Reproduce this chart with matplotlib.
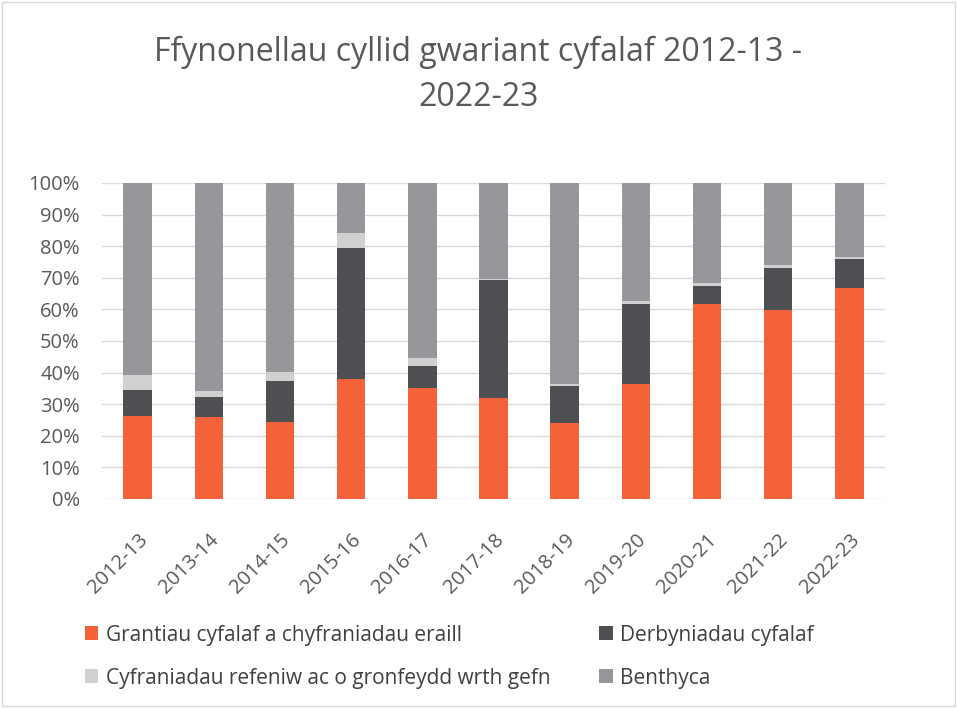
import matplotlib.pyplot as plt
from matplotlib.patches import Rectangle

years = ["2012-13", "2013-14", "2014-15", "2015-16", "2016-17", "2017-18",
         "2018-19", "2019-20", "2020-21", "2021-22", "2022-23"]

# shares in percent
grantiau = [26.2, 25.8, 24.5, 38.1, 35.1, 32.0, 24.0, 36.3, 61.8, 59.7, 66.7]
derbyniadau = [8.2, 6.5, 13.0, 41.3, 7.1, 37.2, 11.9, 25.5, 5.5, 13.4, 9.3]
cyfraniadau = [4.8, 1.8, 2.6, 4.8, 2.4, 0.5, 0.6, 1.0, 1.0, 0.8, 0.6]
benthyca = [100 - a - b - c for a, b, c in zip(grantiau, derbyniadau, cyfraniadau)]

series = [
    ("Grantiau cyfalaf a chyfraniadau eraill", grantiau, "#F4623A"),
    ("Derbyniadau cyfalaf", derbyniadau, "#4D4F53"),
    ("Cyfraniadau refeniw ac o gronfeydd wrth gefn", cyfraniadau, "#D0D0D0"),
    ("Benthyca", benthyca, "#97969B"),
]

plt.rcParams['font.family'] = ['Open Sans', 'DejaVu Sans']

fig = plt.figure(figsize=(9.57, 7.08), dpi=100)
ax = fig.add_axes([102 / 957, 1 - 499 / 708, 783 / 957, 316 / 708])

x = range(len(years))
bottom = [0] * len(years)
handles = []
for label, vals, color in series:
    bars = ax.bar(x, vals, bottom=bottom, width=0.4, color=color, label=label, zorder=3)
    handles.append(bars)
    bottom = [b + v for b, v in zip(bottom, vals)]

ax.set_xlim(-0.5, len(years) - 0.5)
ax.set_ylim(0, 100)
ax.set_yticks(range(0, 101, 10))
ax.set_yticklabels([f"{t}%" for t in range(0, 101, 10)], fontsize=14.5, color="#595959")
ax.set_xticks(list(x))
ax.set_xticklabels(years, rotation=45, ha="right", rotation_mode="anchor",
                   fontsize=14.5, color="#595959")
ax.tick_params(axis="y", length=0, pad=16)
ax.tick_params(axis="x", length=0, pad=22)
ax.grid(axis="y", color="#D9D9D9", linewidth=1, zorder=0)
for s in ax.spines.values():
    s.set_visible(False)

fig.text(0.5, 1 - 52 / 708, "Ffynonellau cyllid gwariant cyfalaf 2012-13 -",
         ha="center", va="center", fontsize=23, color="#595959")
fig.text(0.5, 1 - 98 / 708, "2022-23",
         ha="center", va="center", fontsize=23, color="#595959")

# legend fills column by column, so order the handles to match the reference rows
order = [0, 2, 1, 3]
leg = fig.legend(handles=[handles[i] for i in order], labels=[series[i][0] for i in order],
                 loc="upper left", bbox_to_anchor=(66 / 957, 1 - 606 / 708),
                 ncol=2, frameon=False, fontsize=15, handlelength=0.65, handleheight=0.65,
                 handletextpad=0.35, columnspacing=2.35, labelspacing=1.05)
for t in leg.get_texts():
    t.set_color("#404040")

fig.patches.append(Rectangle((2 / 957, 2 / 708), 953 / 957, 704 / 708, transform=fig.transFigure,
                             fill=False, edgecolor="#D9D9D9", linewidth=1))

fig.savefig("out.png", dpi=100)
